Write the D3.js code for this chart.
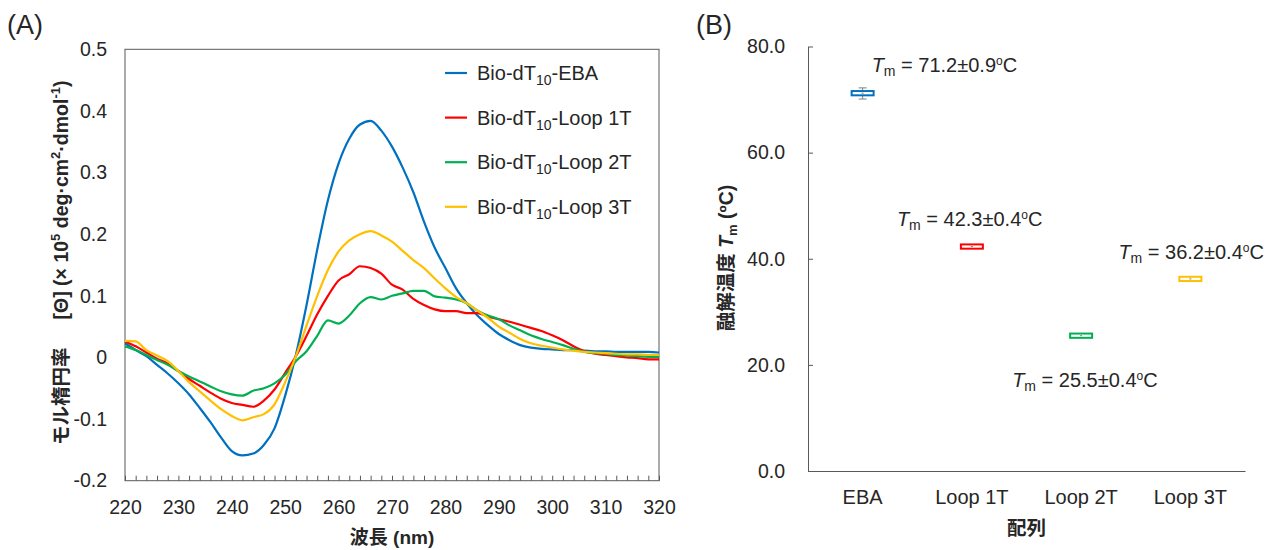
<!DOCTYPE html>
<html>
<head>
<meta charset="utf-8">
<script src="https://cdn.jsdelivr.net/npm/d3@7"></script>
<style>
  body { margin: 0; background: #fff; }
  svg text { font-family: "Liberation Sans", Arial, "Noto Sans CJK JP", sans-serif; fill: #262626; }
  .jp { font-family: "Liberation Sans", Arial, "Noto Sans CJK JP", sans-serif; font-weight: bold; }
</style>
</head>
<body>
<svg id="chart" width="1279" height="550"></svg>
<script>
// ---- data ----
const wavelengths = d3.range(220, 321, 2)

const seriesNames = ['Bio-dT10-EBA', 'Bio-dT10-Loop 1T', 'Bio-dT10-Loop 2T', 'Bio-dT10-Loop 3T']
const seriesColors = ['#0070C0', '#FF0000', '#00B050', '#FFC000']

const cdEBA = [0.023, 0.012, 0.002, -0.012, -0.026, -0.042, -0.060, -0.082, -0.105, -0.130,
  -0.152, -0.159, -0.156, -0.142, -0.115, -0.062, 0.004, 0.085, 0.175, 0.255,
  0.315, 0.355, 0.378, 0.384, 0.368, 0.342, 0.308, 0.268, 0.220, 0.178,
  0.145, 0.112, 0.088, 0.068, 0.052, 0.038, 0.028, 0.020, 0.016, 0.014,
  0.013, 0.012, 0.012, 0.011, 0.010, 0.010, 0.009, 0.009, 0.009, 0.009, 0.008]

const cdLoop1 = [0.026, 0.018, 0.008, -0.002, -0.010, -0.022, -0.035, -0.046, -0.057, -0.067,
  -0.074, -0.077, -0.080, -0.070, -0.052, -0.025, 0.002, 0.035, 0.070, 0.100,
  0.125, 0.135, 0.148, 0.145, 0.136, 0.118, 0.110, 0.095, 0.085, 0.078,
  0.075, 0.075, 0.072, 0.072, 0.066, 0.062, 0.058, 0.053, 0.048, 0.043,
  0.036, 0.028, 0.018, 0.010, 0.006, 0.004, 0.002, 0.000, -0.001, -0.003, -0.003]

const cdLoop2 = [0.018, 0.012, 0.004, -0.004, -0.012, -0.022, -0.031, -0.039, -0.047, -0.055,
  -0.060, -0.062, -0.054, -0.050, -0.042, -0.028, -0.006, 0.010, 0.035, 0.060,
  0.055, 0.068, 0.088, 0.098, 0.094, 0.100, 0.104, 0.108, 0.108, 0.099,
  0.097, 0.094, 0.088, 0.076, 0.068, 0.062, 0.052, 0.044, 0.036, 0.030,
  0.025, 0.020, 0.014, 0.009, 0.007, 0.006, 0.004, 0.003, 0.002, 0.001, 0.001]

const cdLoop3 = [0.027, 0.026, 0.012, 0.003, -0.006, -0.022, -0.040, -0.055, -0.070, -0.084,
  -0.095, -0.102, -0.097, -0.092, -0.076, -0.040, 0.002, 0.052, 0.100, 0.142,
  0.172, 0.190, 0.200, 0.205, 0.198, 0.188, 0.173, 0.158, 0.145, 0.128,
  0.112, 0.098, 0.088, 0.076, 0.064, 0.050, 0.040, 0.030, 0.023, 0.019,
  0.016, 0.013, 0.011, 0.009, 0.008, 0.007, 0.006, 0.005, 0.005, 0.004, 0.004]

const cdSeries = [cdEBA, cdLoop1, cdLoop2, cdLoop3]

const cdYTicks = [-0.2, -0.1, 0, 0.1, 0.2, 0.3, 0.4, 0.5]

const tmCategories = ['EBA', 'Loop 1T', 'Loop 2T', 'Loop 3T']
const tmMean = [71.2, 42.3, 25.5, 36.2]
const tmSD = [0.9, 0.4, 0.4, 0.4]
const tmBoxLow = [70.8, 41.9, 25.1, 35.8]
const tmBoxHigh = [71.6, 42.7, 25.9, 36.6]
const tmWhiskerLow = [70.1, 42.0, 25.2, 35.9]
const tmWhiskerHigh = [72.2, 42.6, 25.8, 36.5]
const tmYTicks = [0, 20, 40, 60, 80]

// where each Tm label sits relative to its box
const labelOffsets = [[9, -21], [-75, -21], [-69, 51], [-72, -20]]

const svg = d3.select('#chart')
const axisColor = '#595959'
const tickFont = '19.5px'

// ================= (A) CD spectra =================
const xA = d3.scaleLinear().domain([220, 320]).range([125, 659])
const yA = d3.scaleLinear().domain([-0.2, 0.5]).range([480.7, 49.3])

svg.append('text')
.attr('x', 7).attr('y', 34)
.style('font-size', '27px')
.text('(A)')

const gxA = svg.append('g')
.attr('transform', `translate(0,${yA(-0.2)})`)
.call(
  d3.axisBottom(xA)
  .tickValues(wavelengths)
  .tickSizeInner(-5)
  .tickSizeOuter(0)
  .tickPadding(19)
  .tickFormat(d => d % 10 === 0 ? d : '')
)
gxA.selectAll('text').style('font-size', tickFont).attr('fill', '#262626')
gxA.selectAll('line').attr('stroke', axisColor)
gxA.select('.domain').remove()

const gyA = svg.append('g')
.attr('transform', `translate(${xA(220)},0)`)
.call(
  d3.axisLeft(yA)
  .tickValues(cdYTicks)
  .tickSize(0)
  .tickPadding(18)
  .tickFormat(d => Math.abs(d) < 1e-9 ? '0' : d3.format('.1f')(d).replace('−', '-'))
)
gyA.selectAll('text').style('font-size', tickFont).attr('fill', '#262626')
gyA.select('.domain').remove()

svg.append('rect')
.attr('x', xA(220)).attr('y', yA(0.5))
.attr('width', xA(320) - xA(220))
.attr('height', yA(-0.2) - yA(0.5))
.attr('fill', 'none')
.attr('stroke', axisColor)
.attr('stroke-width', 1)

const line = d3.line()
.x((d, i) => xA(wavelengths[i]))
.y(d => yA(d))
.curve(d3.curveMonotoneX)

svg.append('g')
.selectAll('path')
.data(cdSeries)
.enter()
.append('path')
.attr('d', d => line(d))
.attr('fill', 'none')
.attr('stroke', (d, i) => seriesColors[i])
.attr('stroke-width', 2.2)
.attr('stroke-linejoin', 'round')

// legend
const legend = svg.append('g')
seriesNames.forEach((name, i) => {
  const yy = 73 + i * 44.6
  legend.append('line')
  .attr('x1', 445).attr('x2', 467)
  .attr('y1', yy).attr('y2', yy)
  .attr('stroke', seriesColors[i])
  .attr('stroke-width', 2.2)

  const t = legend.append('text')
  .attr('x', 477).attr('y', yy + 7)
  .style('font-size', '20px')
  t.append('tspan').text('Bio-dT')
  t.append('tspan').attr('dy', 5).style('font-size', '14px').text('10')
  t.append('tspan').attr('dy', -5).text(name.replace('Bio-dT10', ''))
})

// axis titles
const yTitleA = svg.append('text')
.attr('transform', 'translate(68,445) rotate(-90)')
.attr('class', 'jp')
.style('font-size', '19.5px')
yTitleA.append('tspan').text('モル楕円率')
yTitleA.append('tspan').attr('dx', 28).text('[Θ] (× 10')
yTitleA.append('tspan').attr('dy', -8).style('font-size', '13px').text('5')
yTitleA.append('tspan').attr('dy', 8).text(' deg·cm')
yTitleA.append('tspan').attr('dy', -8).style('font-size', '13px').text('2')
yTitleA.append('tspan').attr('dy', 8).text('·dmol')
yTitleA.append('tspan').attr('dy', -8).style('font-size', '13px').text('-1')
yTitleA.append('tspan').attr('dy', 8).text(')')

svg.append('text')
.attr('class', 'jp')
.attr('x', (xA(220) + xA(320)) / 2).attr('y', 544)
.attr('text-anchor', 'middle')
.style('font-size', '19px')
.text('波長 (nm)')

// ================= (B) melting temperatures =================
const xB = d3.scaleBand().domain(tmCategories).range([808, 1245])
const yB = d3.scaleLinear().domain([0, 80]).range([471, 46.5])

svg.append('text')
.attr('x', 696).attr('y', 34)
.style('font-size', '27px')
.text('(B)')

const gyB = svg.append('g')
.attr('transform', `translate(${xB.range()[0]},0)`)
.call(
  d3.axisLeft(yB)
  .tickValues(tmYTicks)
  .tickSizeInner(-5)
  .tickSizeOuter(0)
  .tickPadding(23)
  .tickFormat(d3.format('.1f'))
)
gyB.selectAll('text').style('font-size', tickFont).attr('fill', '#262626')
gyB.selectAll('line, path').attr('stroke', axisColor)

const gxB = svg.append('g')
.attr('transform', `translate(0,${yB(0)})`)
.call(
  d3.axisBottom(xB)
  .tickSize(0)
  .tickPadding(19)
)
gxB.selectAll('text').style('font-size', '20px').attr('fill', '#262626')
gxB.select('.domain').attr('stroke', axisColor)

const boxW = 22
const boxes = svg.append('g')

tmCategories.forEach((c, i) => {
  const cx = xB(c) + xB.bandwidth() / 2

  // whiskers
  boxes.append('line')
  .attr('x1', cx).attr('x2', cx)
  .attr('y1', yB(tmWhiskerHigh[i])).attr('y2', yB(tmWhiskerLow[i]))
  .attr('stroke', '#7f7f7f').attr('stroke-width', 1)
  ;[tmWhiskerHigh[i], tmWhiskerLow[i]].forEach(v => {
    boxes.append('line')
    .attr('x1', cx - 4).attr('x2', cx + 4)
    .attr('y1', yB(v)).attr('y2', yB(v))
    .attr('stroke', '#7f7f7f').attr('stroke-width', 1)
  })

  boxes.append('rect')
  .attr('x', cx - boxW / 2)
  .attr('y', yB(tmBoxHigh[i]))
  .attr('width', boxW)
  .attr('height', yB(tmBoxLow[i]) - yB(tmBoxHigh[i]))
  .attr('fill', '#fff')
  .attr('stroke', seriesColors[i])
  .attr('stroke-width', 2)

  boxes.append('line')
  .attr('x1', cx - boxW / 2 + 2).attr('x2', cx + boxW / 2 - 2)
  .attr('y1', yB(tmMean[i])).attr('y2', yB(tmMean[i]))
  .attr('stroke', '#fff').attr('stroke-width', 1)

  boxes.append('line')
  .attr('x1', cx - 1).attr('x2', cx + 1)
  .attr('y1', yB(tmMean[i])).attr('y2', yB(tmMean[i]))
  .attr('stroke', '#7f7f7f').attr('stroke-width', 1)

  // Tm label
  const t = svg.append('text')
  .attr('x', cx + labelOffsets[i][0])
  .attr('y', yB(tmMean[i]) + labelOffsets[i][1])
  .style('font-size', '20px')
  t.append('tspan').style('font-style', 'italic').text('T')
  t.append('tspan').attr('dy', 4).style('font-size', '14px').text('m')
  t.append('tspan').attr('dy', -4).text(` = ${tmMean[i].toFixed(1)}±${tmSD[i].toFixed(1)}`)
  t.append('tspan').attr('dy', -7).style('font-size', '12px').text('o')
  t.append('tspan').attr('dy', 7).text('C')
})

const yTitleB = svg.append('text')
.attr('transform', 'translate(733,258) rotate(-90)')
.attr('class', 'jp')
.attr('text-anchor', 'middle')
.style('font-size', '19.5px')
yTitleB.append('tspan').text('融解温度 ')
yTitleB.append('tspan').style('font-style', 'italic').text('T')
yTitleB.append('tspan').attr('dy', 4).style('font-size', '13px').text('m')
yTitleB.append('tspan').attr('dy', -4).text(' (ºC)')

svg.append('text')
.attr('class', 'jp')
.attr('x', (xB.range()[0] + xB.range()[1]) / 2).attr('y', 535)
.attr('text-anchor', 'middle')
.style('font-size', '19.5px')
.text('配列')
</script>
</body>
</html>
